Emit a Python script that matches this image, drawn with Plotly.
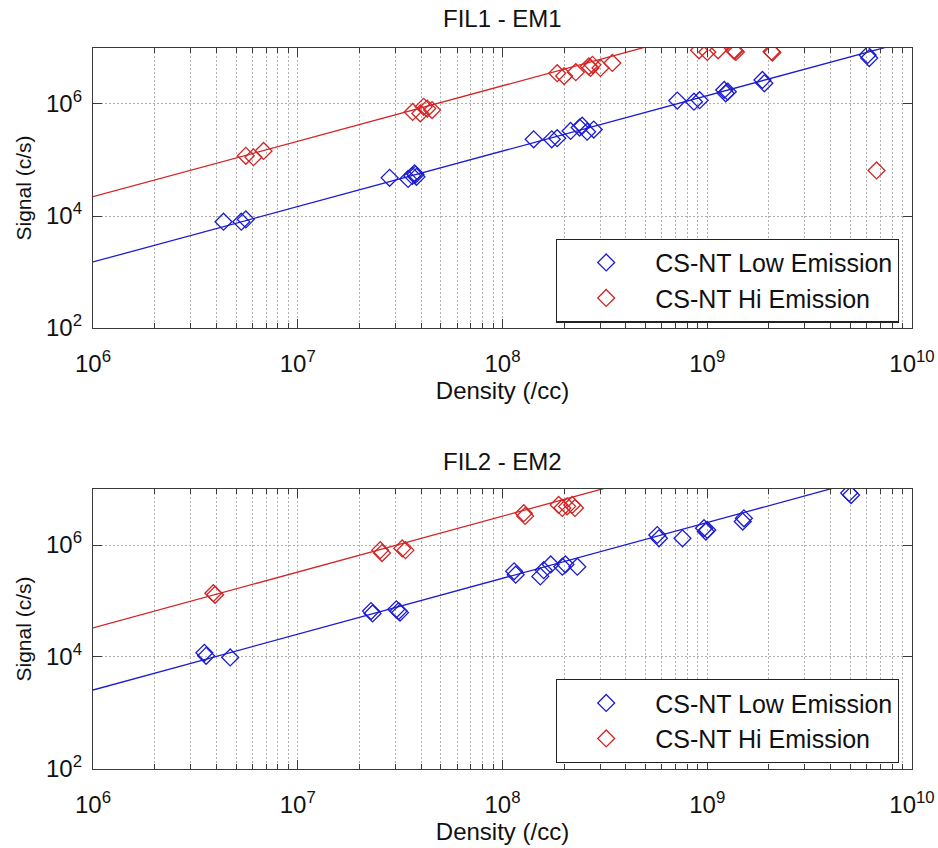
import plotly.graph_objects as go

# ---- data ----
fil1_low_x = [4.34e6, 5.30e6, 5.58e6, 2.81e7, 3.46e7, 3.63e7, 3.72e7, 3.76e7, 3.80e7,
              1.42e8, 1.74e8, 1.85e8, 2.15e8, 2.38e8, 2.45e8, 2.59e8, 2.79e8,
              7.14e8, 8.61e8, 9.18e8, 1.21e9, 1.26e9, 1.23e9, 1.86e9, 1.90e9, 6.07e9, 6.18e9]
fil1_low_y = [7.9e3, 7.9e3, 8.7e3, 4.8e4, 4.6e4, 5.2e4, 5.8e4, 5.5e4, 5.0e4,
              2.34e5, 2.34e5, 2.45e5, 3.3e5, 3.8e5, 4.1e5, 3.2e5, 3.5e5,
              1.15e6, 1.10e6, 1.17e6, 1.78e6, 1.66e6, 1.55e6, 2.69e6, 2.34e6, 7.5e6, 6.6e6]

fil1_hi_x = [5.58e6, 6.08e6, 6.81e6, 3.64e7, 3.97e7, 4.12e7, 4.29e7, 4.53e7,
             1.85e8, 2.00e8, 2.28e8, 2.64e8, 2.75e8, 2.69e8, 3.01e8, 3.44e8,
             9.12e8, 1.00e9, 1.13e9, 1.35e9, 1.36e9, 1.38e9, 2.06e9, 2.08e9, 6.71e9]
fil1_hi_y = [1.19e5, 1.12e5, 1.45e5, 7.2e5, 6.8e5, 8.9e5, 8.3e5, 7.8e5,
             3.55e6, 3.16e6, 3.7e6, 4.7e6, 5.0e6, 4.4e6, 4.4e6, 5.4e6,
             9.1e6, 8.5e6, 9.1e6, 9.1e6, 8.8e6, 8.5e6, 8.6e6, 8.3e6, 6.5e4]

fil2_low_x = [3.50e6, 3.57e6, 4.68e6, 2.28e7, 2.32e7, 3.03e7, 3.11e7, 3.16e7,
              1.14e8, 1.16e8, 1.53e8, 1.59e8, 1.72e8, 1.96e8, 2.03e8, 2.32e8,
              5.70e8, 5.81e8, 7.57e8, 9.64e8, 1.00e9, 9.84e8, 1.49e9, 1.51e9, 4.93e9, 5.04e9]
fil2_low_y = [1.19e4, 1.05e4, 9.8e3, 6.6e4, 6.0e4, 7.1e4, 6.6e4, 6.2e4,
              3.4e5, 2.95e5, 2.75e5, 3.55e5, 4.5e5, 4.1e5, 4.5e5, 4.1e5,
              1.51e6, 1.32e6, 1.32e6, 2.0e6, 1.86e6, 1.74e6, 2.63e6, 3.0e6, 8.5e6, 7.8e6]

fil2_hi_x = [3.87e6, 3.95e6, 2.53e7, 2.58e7, 3.24e7, 3.36e7,
             1.27e8, 1.29e8, 1.88e8, 1.96e8, 2.07e8, 2.19e8, 2.26e8]
fil2_hi_y = [1.38e5, 1.29e5, 8.1e5, 7.2e5, 8.7e5, 8.1e5,
             3.7e6, 3.3e6, 5.2e6, 4.6e6, 4.9e6, 5.2e6, 4.6e6]

# fitted lines (end points)
fit_x = [1e6, 1e10]
fil1_low_fit = [1.51e3, 1.38e7]
fil1_hi_fit = [2.21e4, 2.02e8]
fil2_low_fit = [2.57e3, 2.51e7]
fil2_hi_fit = [3.31e4, 3.24e8]

titles = ["FIL1 - EM1", "FIL2 - EM2"]
series_names = ["CS-NT Low Emission", "CS-NT Hi Emission"]
x_tick_vals = [1e6, 1e7, 1e8, 1e9, 1e10]
x_tick_text = ["10<sup>6</sup>", "10<sup>7</sup>", "10<sup>8</sup>", "10<sup>9</sup>", "10<sup>10</sup>"]
y_tick_vals = [1e2, 1e4, 1e6]
y_tick_text = ["10<sup>2</sup>", "10<sup>4</sup>", "10<sup>6</sup>"]

BLUE = "#1c1cd2"
RED = "#d42424"
FONT = "Liberation Sans, Arial, sans-serif"
TXT = "#111111"

minor_vals = [m * 10 ** e for e in range(6, 10) for m in range(2, 10)]

fig = go.Figure()

panels = [
    (fil1_low_x, fil1_low_y, fil1_hi_x, fil1_hi_y, fil1_low_fit, fil1_hi_fit, "x", "y", "legend"),
    (fil2_low_x, fil2_low_y, fil2_hi_x, fil2_hi_y, fil2_low_fit, fil2_hi_fit, "x2", "y2", "legend2"),
]

for lx, ly, hx, hy, lfit, hfit, xa, ya, lg in panels:
    fig.add_trace(go.Scatter(x=lx, y=ly, mode="markers", name=series_names[0],
                             marker=dict(symbol="diamond-open", size=13, color=BLUE,
                                         line=dict(width=1.3, color=BLUE)),
                             xaxis=xa, yaxis=ya, legend=lg))
    fig.add_trace(go.Scatter(x=hx, y=hy, mode="markers", name=series_names[1],
                             marker=dict(symbol="diamond-open", size=13, color=RED,
                                         line=dict(width=1.3, color=RED)),
                             xaxis=xa, yaxis=ya, legend=lg))
    fig.add_trace(go.Scatter(x=fit_x, y=lfit, mode="lines", line=dict(color=BLUE, width=1.3),
                             showlegend=False, xaxis=xa, yaxis=ya, hoverinfo="skip"))
    fig.add_trace(go.Scatter(x=fit_x, y=hfit, mode="lines", line=dict(color=RED, width=1.3),
                             showlegend=False, xaxis=xa, yaxis=ya, hoverinfo="skip"))

AX = "#3a3a3a"
GRID = "#b0b0b0"
DASH = "2px,2px"

def xaxis(anchor):
    return dict(
        type="log", range=[6, 10], domain=[0.0991, 0.9723], anchor=anchor,
        automargin=False,
        tickmode="array", tickvals=x_tick_vals, ticktext=x_tick_text,
        ticks="inside", ticklen=9, tickcolor=AX, tickwidth=1,
        showline=True, linecolor=AX, linewidth=1.2, mirror="allticks",
        showgrid=True, gridcolor=GRID, griddash=DASH, gridwidth=1,
        tickfont=dict(family=FONT, size=24, color=TXT),
        ticklabelstandoff=14,
        minor=dict(tickmode="array", tickvals=minor_vals, ticks="inside", ticklen=5,
                   tickcolor=AX, showgrid=True, gridcolor=GRID, griddash=DASH, gridwidth=1),
        title=dict(text="Density (/cc)", font=dict(family=FONT, size=24, color=TXT),
                   standoff=4),
        zeroline=False,
    )

def yaxis(domain, anchor):
    return dict(
        type="log", range=[2, 7], domain=domain, anchor=anchor,
        automargin=False,
        tickmode="array", tickvals=y_tick_vals, ticktext=y_tick_text,
        ticks="inside", ticklen=9, tickcolor=AX, tickwidth=1,
        showline=True, linecolor=AX, linewidth=1.2, mirror="allticks",
        showgrid=True, gridcolor=GRID, griddash=DASH, gridwidth=1,
        minor=dict(showgrid=False, ticks=""),
        tickfont=dict(family=FONT, size=24, color=TXT),
        ticklabelstandoff=5,
        title=dict(text="Signal (c/s)", font=dict(family=FONT, size=21, color=TXT),
                   standoff=8),
        zeroline=False,
    )

legend_common = dict(
    xref="paper", yref="paper", xanchor="right", yanchor="middle",
    bgcolor="white", bordercolor="#222222", borderwidth=1.2,
    font=dict(family=FONT, size=25, color=TXT),
    itemwidth=88, tracegroupgap=0,
)

fig.update_layout(
    width=938, height=848,
    margin=dict(l=0, r=0, t=0, b=0, autoexpand=False),
    paper_bgcolor="white", plot_bgcolor="white",
    showlegend=True,
    xaxis=xaxis("y"),
    yaxis=yaxis([0.6132, 0.9434], "x"),
    xaxis2=xaxis("y2"),
    yaxis2=yaxis([0.0932, 0.4233], "x2"),
    legend=dict(x=0.9584, y=0.6692, **legend_common),
    legend2=dict(x=0.9584, y=0.1498, **legend_common),
    annotations=[
        dict(text=titles[0], x=0.5357, y=0.9776, xref="paper", yref="paper",
             showarrow=False, xanchor="center", yanchor="middle",
             font=dict(family=FONT, size=24, color=TXT)),
        dict(text=titles[1], x=0.5357, y=0.4552, xref="paper", yref="paper",
             showarrow=False, xanchor="center", yanchor="middle",
             font=dict(family=FONT, size=24, color=TXT)),
    ],
)

fig.write_html("out.html", config={"displayModeBar": False},
               post_script="document.body.style.margin='0';document.body.style.overflow='hidden';")
